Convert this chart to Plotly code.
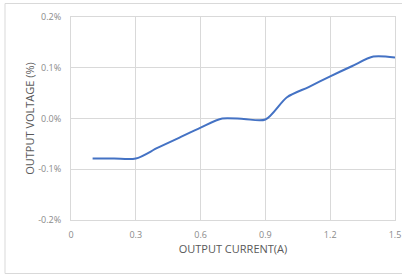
import plotly.graph_objects as go

current_a = [0.1, 0.2, 0.3, 0.4, 0.5, 0.6, 0.7, 0.8, 0.9, 1.0, 1.1, 1.2, 1.3, 1.4, 1.5]
voltage_pct = [-0.079, -0.079, -0.079, -0.058, -0.038, -0.018, 0.0, -0.001, -0.002,
               0.042, 0.062, 0.083, 0.103, 0.122, 0.120]

x_ticks = [0, 0.3, 0.6, 0.9, 1.2, 1.5]
x_ticklabels = ["0", "0.3", "0.6", "0.9", "1.2", "1.5"]
y_ticks = [-0.2, -0.1, 0.0, 0.1, 0.2]
y_ticklabels = ["-0.2%", "-0.1%", "0.0%", "0.1%", "0.2%"]

W, H = 402, 275
L, R, T, B = 71, 7, 17, 55
pw, ph = W - L - R, H - T - B

fig = go.Figure()
fig.add_trace(go.Scatter(
    x=current_a, y=voltage_pct, mode="lines",
    line=dict(color="#4472C4", width=2, shape="spline", smoothing=0.8),
    hoverinfo="skip", showlegend=False,
))

grid = "#d9d9d9"
tickfont = dict(family="Open Sans, sans-serif", size=9, color="#8a8a8a")
titlefont = dict(family="Open Sans, sans-serif", size=11, color="#595959")

fig.update_xaxes(
    range=[0, 1.5], tickvals=x_ticks, ticktext=x_ticklabels,
    showgrid=True, gridcolor=grid, gridwidth=1, zeroline=False,
    showline=True, linecolor=grid, mirror=True,
    ticks="", tickfont=tickfont, ticklabelstandoff=6,
    title=dict(text="OUTPUT CURRENT(A)", font=titlefont, standoff=0),
    automargin=False,
)
fig.update_yaxes(
    range=[-0.2, 0.2], tickvals=y_ticks, ticktext=y_ticklabels,
    showgrid=True, gridcolor=grid, gridwidth=1, zeroline=False,
    showline=True, linecolor=grid, mirror=True,
    ticks="", tickfont=tickfont, ticklabelstandoff=7,
    title=dict(text="OUTPUT VOLTAGE (%)", font=titlefont, standoff=1),
    automargin=False,
)

fig.add_shape(
    type="rect", xref="paper", yref="paper",
    x0=(5 - L) / pw, x1=(404 - L) / pw,
    y0=(H - B - 273.5) / ph, y1=(H - B - 3.5) / ph,
    line=dict(color="#d9d9d9", width=1), fillcolor="rgba(0,0,0,0)", layer="below",
)

fig.update_layout(
    width=W, height=H,
    margin=dict(l=L, r=R, t=T, b=B),
    paper_bgcolor="white", plot_bgcolor="white",
)

fig.write_html(
    "out.html",
    config={"displayModeBar": False, "staticPlot": True},
    post_script="document.body.style.margin='0';document.body.style.overflow='hidden';",
)
